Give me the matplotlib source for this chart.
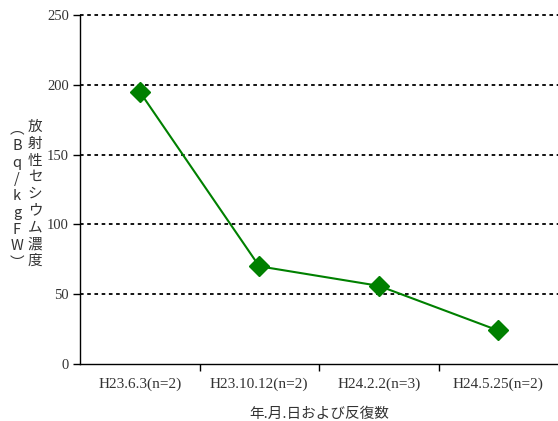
import matplotlib
matplotlib.use("Agg")
import matplotlib.pyplot as plt

categories = ["H23.6.3(n=2)", "H23.10.12(n=2)", "H24.2.2(n=3)", "H24.5.25(n=2)"]
values = [195, 70, 56, 24]
yticks = [0, 50, 100, 150, 200, 250]
xlabel = "年.月.日および反復数"
ylabel_left = ["︵", "B", "q", "/", "k", "g", "F", "W", "︶"]
ylabel_right = ["放", "射", "性", "セ", "シ", "ウ", "ム", "濃", "度"]

serif = ["Liberation Serif", "DejaVu Serif"]
jp = ["Noto Sans CJK JP", "DejaVu Sans"]

fig = plt.figure(figsize=(5.58, 4.21), dpi=100)
ax = fig.add_axes([80/558, 1-364/421, 478/558, 349/421])

x = list(range(len(categories)))
ax.plot(x, values, color="#008000", lw=1.5, marker="D", markersize=10,
        markeredgecolor="#008000", markerfacecolor="#008000", zorder=3, clip_on=False)

ax.set_xlim(-0.5, len(categories) - 0.5)
ax.set_ylim(0, 250)
ax.set_yticks(yticks)
ax.set_yticklabels([str(t) for t in yticks], fontfamily=serif, fontsize=10.5, color="#333333")
for t in yticks[1:]:
    ax.axhline(t, color="black", lw=1.3, ls=(0, (2, 2)), zorder=1, clip_on=False)

ax.set_xticks([i + 0.5 for i in range(len(categories) - 1)])
ax.set_xticklabels([])
ax.set_xticks(x, minor=True)
ax.set_xticklabels(categories, minor=True, fontfamily=serif, fontsize=11, color="#333333")
ax.tick_params(axis="x", which="minor", length=0, pad=10)
ax.tick_params(axis="x", which="major", length=5, direction="out", width=1)
ax.tick_params(axis="y", length=5, direction="out", width=1, pad=3)

for s in ["top", "right"]:
    ax.spines[s].set_visible(False)
ax.spines["left"].set_linewidth(1)
ax.spines["bottom"].set_linewidth(1)

ax.set_xlabel(xlabel, fontfamily=jp, fontsize=10.5, labelpad=11, color="#333333")

fig.text(17/558, 1-196/421, "\n".join(ylabel_left), ha="center", va="center",
         fontfamily=jp, fontsize=10.5, linespacing=1.25, color="#333333")
fig.text(35/558, 1-194/421, "\n".join(ylabel_right), ha="center", va="center",
         fontfamily=jp, fontsize=10.5, linespacing=1.25, color="#333333")

fig.savefig("out.png", dpi=100)
